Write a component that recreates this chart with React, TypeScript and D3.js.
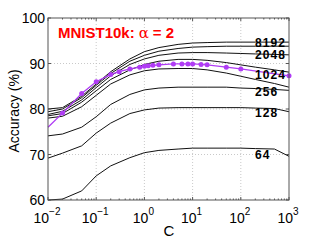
import React from 'react';
import * as d3 from 'd3';

// C values the black curves were evaluated at
const cGrid = [0.01, 0.02, 0.05, 0.1, 0.2, 0.5, 1, 2, 5, 10, 20, 50, 100, 200, 500, 1000];

// accuracy (%) per number of hidden units
const acc64 = [60.0, 60.2, 62.0, 65.3, 67.5, 69.3, 70.4, 70.9, 71.2, 71.4, 71.4, 71.4, 71.4, 71.3, 71.2, 69.6];
const acc128 = [69.2, 70.3, 71.9, 74.7, 76.9, 79.0, 79.8, 80.2, 80.3, 80.3, 80.3, 80.3, 80.3, 80.2, 80.1, 79.4];
const acc256 = [74.1, 74.5, 76.0, 78.3, 81.0, 83.2, 84.2, 84.6, 84.8, 84.8, 84.8, 84.8, 84.6, 84.5, 84.3, 84.1];
const acc512 = [78.0, 78.4, 80.5, 83.0, 85.5, 87.5, 88.4, 88.8, 88.9, 88.9, 88.6, 87.9, 87.2, 86.5, 85.6, 84.8];
const acc1024 = [78.5, 79.0, 81.5, 84.0, 86.5, 88.6, 89.8, 90.5, 90.9, 90.9, 90.7, 90.2, 89.7, 89.2, 88.6, 88.1];
const acc2048 = [78.8, 79.5, 82.0, 84.7, 87.3, 89.8, 91.0, 91.8, 92.3, 92.4, 92.4, 92.3, 92.2, 92.1, 92.0, 91.9];
const acc4096 = [79.4, 80.0, 82.5, 85.2, 87.8, 90.5, 91.8, 92.7, 93.3, 93.6, 93.7, 93.8, 93.8, 93.8, 93.8, 93.8];
const acc8192 = [80.0, 80.3, 82.8, 85.5, 88.2, 91.0, 92.6, 93.5, 94.2, 94.5, 94.6, 94.7, 94.7, 94.7, 94.7, 94.7];

// purple curve with markers
const cPurple = [0.01, 0.02, 0.05, 0.1, 0.2, 0.3, 0.5, 0.8, 1, 1.2, 1.5, 2, 4, 6, 8, 10, 15, 20, 50, 100, 1000];
const accPurple = [76.0, 79.1, 83.4, 86.0, 87.6, 88.2, 88.8, 89.2, 89.4, 89.5, 89.6, 89.7, 89.9, 89.9, 89.9, 89.9, 89.8, 89.7, 89.2, 88.8, 87.3];

const curveLabels = ['8192', '2048', '1024', '256', '128', '64'];
const labelAcc = [94.7, 91.9, 87.6, 83.9, 79.2, 70.1];

const yTicks = [60, 70, 80, 90, 100];
const xExps = [-2, -1, 0, 1, 2, 3];

const W = 319;
const H = 240;
const left = 48, right = 289, top = 18, bottom = 200;

export default function App() {
  const x = d3.scaleLog().domain([0.01, 1000]).range([left, right]);
  const y = d3.scaleLinear().domain([60, 100]).range([bottom, top]);

  const line = d3.line<[number, number]>()
    .x(d => x(d[0]))
    .y(d => y(d[1]));

  const blackSeries = [acc64, acc128, acc256, acc512, acc1024, acc2048, acc4096, acc8192];
  const purplePts: [number, number][] = cPurple.map((c, i) => [c, accPurple[i]]);

  // minor ticks for the log axis
  const minor: number[] = [];
  for (let e = -2; e < 3; e++) {
    for (let k = 2; k <= 9; k++) minor.push(k * Math.pow(10, e));
  }

  const font = 'Liberation Sans, Arial, Helvetica, sans-serif';

  return (
    <svg width={W} height={H} style={{ position: 'absolute', left: 0, top: 0, background: '#fff' }}
      fontFamily={font}>
      {/* grid */}
      {xExps.slice(1, -1).map(e => (
        <line key={'gx' + e} x1={x(Math.pow(10, e))} x2={x(Math.pow(10, e))} y1={top} y2={bottom}
          stroke="#bbb" strokeWidth={0.8} strokeDasharray="1,2" />
      ))}
      {yTicks.slice(1, -1).map(t => (
        <line key={'gy' + t} x1={left} x2={right} y1={y(t)} y2={y(t)}
          stroke="#bbb" strokeWidth={0.8} strokeDasharray="1,2" />
      ))}

      {/* curves */}
      {blackSeries.map((s, i) => (
        <path key={'b' + i} d={line(cGrid.map((c, j) => [c, s[j]] as [number, number])) || ''}
          fill="none" stroke="#111" strokeWidth={1} />
      ))}
      <path d={line(purplePts) || ''} fill="none" stroke="#b03cf5" strokeWidth={1.3} />
      {purplePts.slice(1).map((p, i) => (
        <circle key={'m' + i} cx={x(p[0])} cy={y(p[1])} r={2.5} fill="#b03cf5" />
      ))}

      {/* axes box */}
      <rect x={left} y={top} width={right - left} height={bottom - top} fill="none" stroke="#555" strokeWidth={1} />
      {minor.map((m, i) => (
        <g key={'mn' + i}>
          <line x1={x(m)} x2={x(m)} y1={bottom} y2={bottom - 1.5} stroke="#555" />
          <line x1={x(m)} x2={x(m)} y1={top} y2={top + 1.5} stroke="#555" />
        </g>
      ))}
      {xExps.map(e => (
        <g key={'mx' + e}>
          <line x1={x(Math.pow(10, e))} x2={x(Math.pow(10, e))} y1={bottom} y2={bottom - 3} stroke="#555" />
          <line x1={x(Math.pow(10, e))} x2={x(Math.pow(10, e))} y1={top} y2={top + 3} stroke="#555" />
        </g>
      ))}
      {yTicks.map(t => (
        <g key={'my' + t}>
          <line x1={left} x2={left + 3} y1={y(t)} y2={y(t)} stroke="#555" />
          <line x1={right} x2={right - 3} y1={y(t)} y2={y(t)} stroke="#555" />
        </g>
      ))}

      {/* tick labels */}
      {yTicks.map(t => (
        <text key={'yl' + t} x={left - 3} y={y(t) + 5} fontSize={14} textAnchor="end" fill="#000">{t}</text>
      ))}
      {xExps.map(e => (
        <text key={'xl' + e} x={x(Math.pow(10, e)) - 1} y={222.5} fontSize={14} textAnchor="middle" fill="#000">
          10<tspan fontSize={10} dy={-8}>{e < 0 ? '\u2212' + Math.abs(e) : e}</tspan>
        </text>
      ))}

      {/* axis titles */}
      <text x={169} y={236} fontSize={15} textAnchor="middle">C</text>
      <text transform={`translate(19,111) rotate(-90)`} fontSize={14} textAnchor="middle">Accuracy (%)</text>

      {/* title */}
      <text x={58} y={37.5} fill="#ff0000" fontSize={15} fontWeight="bold">
        MNIST10k:<tspan fontWeight="normal" fontFamily="DejaVu Serif, serif" dx={4}>α</tspan>
        <tspan dx={4}>= 2</tspan>
      </text>

      {/* curve labels */}
      {curveLabels.map((l, i) => (
        <text key={'cl' + l} x={255} y={y(labelAcc[i]) + 4.5} fontSize={12} letterSpacing={1.1}
          fontWeight="bold" fill="#000">{l}</text>
      ))}
    </svg>
  );
}
